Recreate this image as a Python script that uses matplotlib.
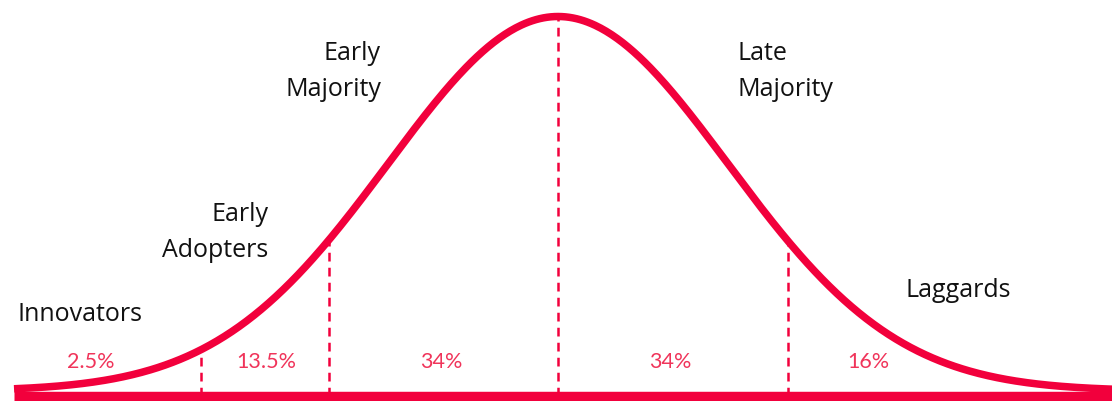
import numpy as np
import matplotlib
matplotlib.use("Agg")
import matplotlib.pyplot as plt

# adoption groups and their shares
groups = ["Innovators", "Early Adopters", "Early Majority", "Late Majority", "Laggards"]
shares = [2.5, 13.5, 34, 34, 16]
# divider positions along the curve, in standard deviations
dividers = [-2.1, -1.35, 0.0, 1.35]

RED = "#F2003C"
PCT = "#F0345A"
W, H = 1112, 401

plt.rcParams["font.family"] = ["Open Sans", "DejaVu Sans"]

fig = plt.figure(figsize=(W / 100, H / 100), dpi=100)
ax = fig.add_axes([0, 0, 1, 1])
ax.set_xlim(-558 / 170, 554 / 170)
ax.set_ylim(-10 / 374.5, 1 + 16.5 / 374.5)
ax.axis("off")
base = -4.5 / 374.5


def bell(z):
    return np.exp(-z ** 2 / 2)


# curve
z = np.linspace(-3.2, 3.3, 600)
ax.plot(z, bell(z), color=RED, lw=5.4, solid_capstyle="butt", zorder=3)

# baseline
ax.plot([-3.2, 3.3], [base, base], color=RED, lw=6.8,
        solid_capstyle="butt", zorder=4)

# dashed dividers
for d in dividers:
    ax.plot([d, d], [base, bell(d)], color=RED, lw=1.8,
            dashes=(3.5, 2.5), zorder=2)


def px(x, y):
    return x / W, 1 - y / H


# group labels: (lines, x, baseline y of first line, alignment)
label_pos = [
    (["Innovators"], 18, 321, "left"),
    (["Early", "Adopters"], 268, 221, "right"),
    (["Early", "Majority"], 381, 60, "right"),
    (["Late", "Majority"], 738, 60, "left"),
    (["Laggards"], 906, 297, "left"),
]
for lines, x, y, ha in label_pos:
    for i, line in enumerate(lines):
        fig.text(*px(x, y + i * 36), line, ha=ha, va="baseline",
                 fontsize=18, color="#111111")

# percentages
pct_x = [91, 266, 441, 670, 868]
for s, x in zip(shares, pct_x):
    fig.text(*px(x, 368), f"{s:g}%", ha="center", va="baseline",
             fontsize=15.5, color=PCT, family=["Lato", "DejaVu Sans"])

fig.savefig("out.png", dpi=100)
